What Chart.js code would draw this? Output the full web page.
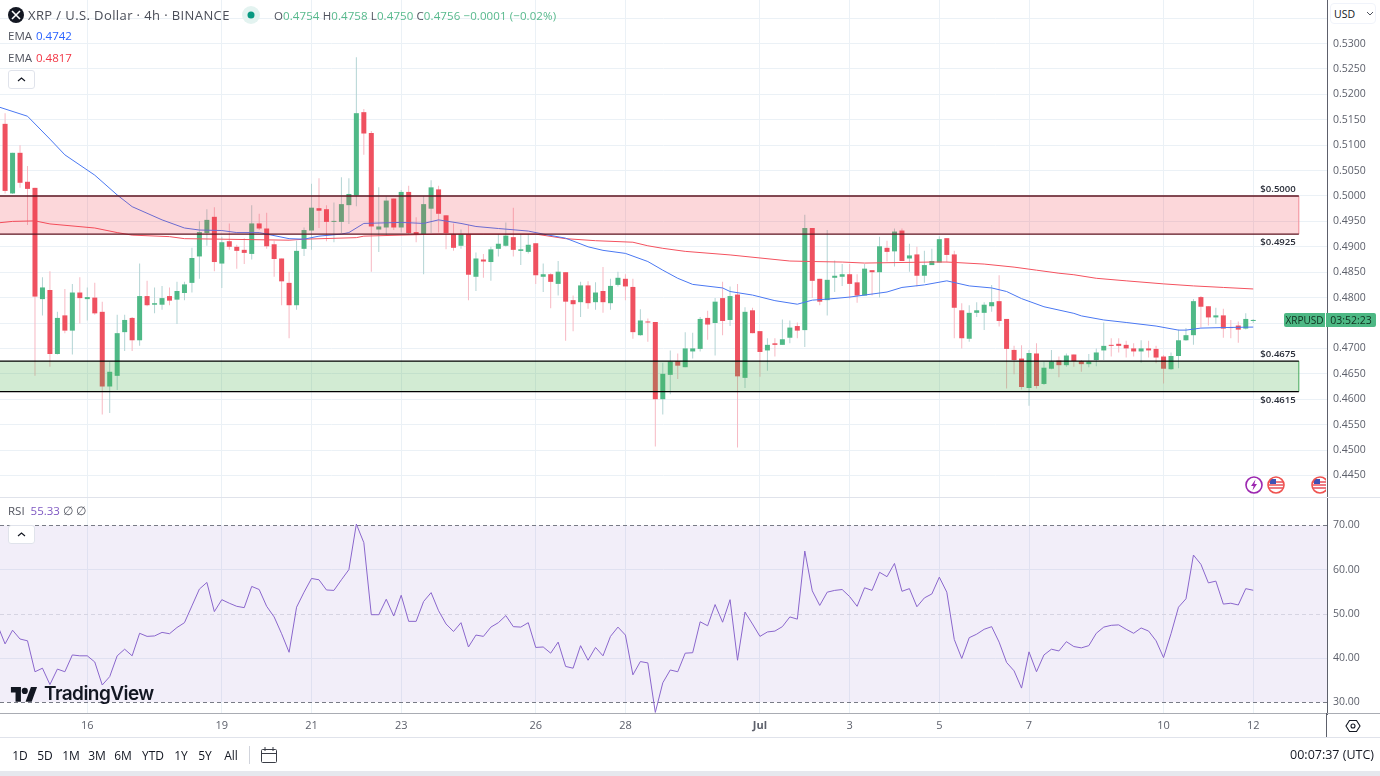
<!DOCTYPE html>
<html>
<head>
<meta charset="utf-8">
<title>XRP / U.S. Dollar</title>
<script src="https://cdn.jsdelivr.net/npm/chart.js@4"></script>
<style>
    html, body { margin: 0; padding: 0; background: #fff; }
    body { width: 1380px; height: 776px; position: relative; overflow: hidden; font-family: "Open Sans", sans-serif; color: #50535e; }
    canvas { position: absolute; left: 0; display: block; }
    #priceChart { top: 0; }
    #rsiChart { top: 497px; }
    .t { position: absolute; white-space: nowrap; line-height: 16px; }
    .line { position: absolute; }
    .tb { position: absolute; top: 747px; font-size: 12px; color: #131722; transform: translateX(-50%); font-weight: 500; }
    .collapse { position: absolute; left: 8px; width: 25px; height: 17px; border: 1px solid #e0e3eb; border-radius: 3px; background: #fff; }
    .green { color: #57b98c; }
</style>
</head>
<body>
<canvas id="priceChart" width="1380" height="497"></canvas>
<canvas id="rsiChart" width="1380" height="241"></canvas>

<!-- pane separators -->
<div class="line" style="left:0;top:497px;width:1380px;height:1px;background:#e0e3eb"></div>
<div class="line" style="left:0;top:713px;width:1380px;height:1px;background:#a9acb3"></div>
<div class="line" style="left:1326px;top:713px;width:1px;height:24px;background:#5d606b"></div>
<div class="line" style="left:0;top:737px;width:1380px;height:1px;background:#e0e3eb"></div>
<div class="line" style="left:0;top:771px;width:1380px;height:5px;background:#e6e8ee"></div>

<!-- header -->
<svg style="position:absolute;left:8px;top:7px" width="16" height="16" viewBox="0 0 16 16">
    <circle cx="8" cy="8" r="8" fill="#131722"/>
    <path d="M4 4l8 8M12 4l-8 8" stroke="#fff" stroke-width="1.6"/>
</svg>
<div class="t" style="left:28px;top:7px;font-size:13px;letter-spacing:0.4px;color:#4a4d57">XRP / U.S. Dollar · 4h · BINANCE</div>
<svg style="position:absolute;left:242px;top:6px" width="18" height="18" viewBox="0 0 18 18">
    <circle cx="9" cy="9" r="9" fill="#e3f3f0"/><circle cx="9" cy="9" r="3.5" fill="#089981"/>
</svg>
<div class="t" style="left:274px;top:8px;font-size:11.5px;letter-spacing:0.1px">O<span class="green">0.4754</span> H<span class="green">0.4758</span> L<span class="green">0.4750</span> C<span class="green">0.4756</span> <span class="green">−0.0001 (−0.02%)</span></div>
<div class="t" style="left:8px;top:28px;font-size:11.5px">EMA <span style="color:#2962ff;margin-left:1px">0.4742</span></div>
<div class="t" style="left:8px;top:50px;font-size:11.5px">EMA <span style="color:#f23645;margin-left:1px">0.4817</span></div>
<div class="collapse" style="top:70px"><svg width="25" height="17"><path d="M9 10l3.5-3 3.5 3" fill="none" stroke="#131722" stroke-width="1.2"/></svg></div>
<div class="t" style="left:8px;top:503px;font-size:11.5px">RSI <span style="color:#7e57c2;margin-left:3px">55.33</span> <span>∅</span> <span>∅</span></div>
<div class="collapse" style="top:525px"><svg width="25" height="17"><path d="M9 10l3.5-3 3.5 3" fill="none" stroke="#131722" stroke-width="1.2"/></svg></div>

<!-- event icons, the last one is cut by the axis -->
<div style="position:absolute;left:1240px;top:472px;width:86px;height:25px;overflow:hidden">
    <svg style="position:absolute;left:5px;top:4px" width="18" height="18" viewBox="0 0 18 18">
        <circle cx="9" cy="9" r="8" fill="#fff" stroke="#9c27b0" stroke-width="1.6"/>
        <path d="M10.5 3.5L6 10h2.6l-1.1 4.5L12 8H9.4z" fill="#9c27b0"/>
    </svg>
    <svg style="position:absolute;left:27px;top:4px" width="18" height="18" viewBox="0 0 18 18">
        <circle cx="9" cy="9" r="8" fill="#fff"/>
        <path d="M2 6h14M1.5 9h15M2 12h14" stroke="#e8505b" stroke-width="1.5"/>
        <rect x="3" y="3" width="6" height="5" fill="#3f51b5"/>
        <circle cx="9" cy="9" r="8" fill="none" stroke="#ef5350" stroke-width="1.6"/>
    </svg>
    <svg style="position:absolute;left:71px;top:4px" width="18" height="18" viewBox="0 0 18 18">
        <circle cx="9" cy="9" r="8" fill="#fff"/>
        <path d="M2 6h14M1.5 9h15M2 12h14" stroke="#e8505b" stroke-width="1.5"/>
        <rect x="3" y="3" width="6" height="5" fill="#3f51b5"/>
        <circle cx="9" cy="9" r="8" fill="none" stroke="#ef5350" stroke-width="1.6"/>
    </svg>
</div>

<!-- last price labels -->
<div class="t" style="left:1284px;top:313px;width:41px;height:14px;line-height:14px;background:#4db884;color:#10301f;font-size:10px;text-align:center;border-radius:2px 0 0 2px">XRPUSD</div>
<div class="t" style="left:1326px;top:313px;width:50px;height:14px;line-height:14px;background:#4db884;color:#10301f;font-size:10.5px;text-align:center;border-radius:0 2px 2px 0">03:52:23</div>

<!-- currency button -->
<div class="t" style="left:1330px;top:3px;width:46px;height:21px;line-height:21px;border:1px solid #f0f3fa;border-radius:4px;box-sizing:border-box;font-size:10.5px;color:#131722;padding-left:3px;background:#fff">USD<svg style="position:absolute;left:35px;top:7px" width="8" height="6"><path d="M1 1l3 3 3-3" fill="none" stroke="#50535e" stroke-width="1"/></svg></div>

<!-- watermark -->
<svg style="position:absolute;left:10px;top:684px" width="28" height="20" viewBox="0 0 36 26">
    <path d="M14 4H1v7h6v12h7V4zm14 19h-8l7-19h8l-7 19zm-9-10a4 4 0 1 0 0-8 4 4 0 0 0 0 8z" fill="#131722"/>
</svg>
<div class="t" style="left:44px;top:684px;line-height:20px;font-size:19px;font-family:Inter,sans-serif;font-weight:600;color:#131722;letter-spacing:-0.55px">TradingView</div>

<!-- gear -->
<svg style="position:absolute;left:1345px;top:718px" width="16" height="16" viewBox="0 0 16 16">
    <path d="M4.5 2.5h7L15 8l-3.5 5.5h-7L1 8z" fill="none" stroke="#131722" stroke-width="1.1"/>
    <circle cx="8" cy="8" r="2" fill="none" stroke="#131722" stroke-width="1.1"/>
</svg>

<!-- bottom toolbar -->
<div class="tb" style="left:20px">1D</div>
<div class="tb" style="left:45px">5D</div>
<div class="tb" style="left:71px">1M</div>
<div class="tb" style="left:97px">3M</div>
<div class="tb" style="left:123px">6M</div>
<div class="tb" style="left:153px">YTD</div>
<div class="tb" style="left:181px">1Y</div>
<div class="tb" style="left:205px">5Y</div>
<div class="tb" style="left:231px">All</div>
<div class="line" style="left:249px;top:746px;width:1px;height:18px;background:#d1d4dc"></div>
<svg style="position:absolute;left:260px;top:746px" width="18" height="18" viewBox="0 0 18 18">
    <rect x="1.5" y="3.5" width="15" height="13" rx="1" fill="none" stroke="#3a3d46"/>
    <path d="M1.5 7.5h15M5 1v4M13 1v4" stroke="#3a3d46" fill="none"/>
</svg>
<div class="t" style="right:6px;top:747px;font-size:12.5px;color:#131722">00:07:37 (UTC)</div>

<script>
// XRP/USD 4h candles, index 0 is the first candle on screen, 11 is 16 Jun 00:00
const openPrice = [
    .5142,.5005,.5085,.5028,.5016,.4797,.4815,.4689,.4765,.4735,
    .4810,.4797,.4800,.4772,.4625,.4646,.4732,.4760,.4716,.4803,
    .4786,.4786,.4803,.4796,.4809,.4829,.4881,.4927,.4959,.4867,
    .4911,.4900,.4894,.4886,.4946,.4936,.4905,.4877,.4829,.4785,
    .4896,.4932,.4976,.4974,.4949,.4949,.4982,.5001,.5165,.5124,
    .4934,.4938,.4995,.4938,.5008,.4929,.4925,.4975,.5013,.4962,
    .4925,.4902,.4925,.4841,.4875,.4870,.4896,.4902,.4919,.4892,
    .4890,.4907,.4841,.4846,.4827,.4850,.4795,.4791,.4824,.4791,
    .4813,.4789,.4825,.4837,.4821,.4726,.4753,.4752,.4600,.4648,
    .4675,.4663,.4694,.4699,.4760,.4750,.4799,.4756,.4806,.4642,
    .4775,.4734,.4696,.4710,.4707,.4721,.4744,.4736,.4937,.4837,
    .4795,.4839,.4841,.4846,.4830,.4804,.4854,.4850,.4898,.4891,
    .4932,.4877,.4885,.4843,.4864,.4869,.4917,.4885,.4775,.4719,
    .4770,.4770,.4783,.4793,.4758,.4697,.4680,.4622,.4690,.4630,
    .4660,.4676,.4667,.4688,.4675,.4669,.4677,.4696,.4707,.4709,
    .4707,.4700,.4694,.4700,.4699,.4684,.4659,.4685,.4716,.4726,
    .4801,.4783,.4761,.4765,.4742,.4745,.4739,.4754
];
const highPrice = [
    .5163,.5085,.5100,.5059,.5016,.4840,.4852,.4772,.4817,.4827,
    .4840,.4820,.4829,.4792,.4674,.4766,.4766,.4762,.4867,.4833,
    .4820,.4823,.4820,.4831,.4831,.4898,.4951,.4974,.4978,.4920,
    .4946,.4904,.4917,.4982,.4965,.4967,.4912,.4877,.4851,.4912,
    .4938,.5024,.5035,.4982,.4987,.5037,.5035,.5273,.5171,.5128,
    .5017,.4999,.4995,.5012,.5020,.4958,.5000,.5031,.5020,.4962,
    .4946,.4934,.4943,.4889,.4886,.4900,.4925,.4948,.4977,.4925,
    .4925,.4907,.4867,.4848,.4872,.4850,.4804,.4831,.4832,.4830,
    .4860,.4837,.4851,.4846,.4837,.4777,.4759,.4752,.4672,.4696,
    .4690,.4732,.4731,.4762,.4774,.4799,.4831,.4822,.4827,.4781,
    .4780,.4734,.4720,.4720,.4757,.4755,.4751,.4963,.4937,.4837,
    .4933,.4873,.4866,.4866,.4846,.4866,.4854,.4920,.4912,.4936,
    .4936,.4906,.4900,.4892,.4896,.4921,.4917,.4892,.4789,.4785,
    .4791,.4791,.4825,.4844,.4758,.4705,.4706,.4697,.4710,.4674,
    .4697,.4684,.4690,.4688,.4677,.4689,.4700,.4751,.4720,.4720,
    .4715,.4710,.4716,.4715,.4705,.4687,.4692,.4737,.4740,.4797,
    .4803,.4783,.4780,.4778,.4756,.4753,.4769,.4758
];
const lowPrice = [
    .5005,.5004,.5016,.4943,.4646,.4765,.4664,.4688,.4730,.4688,
    .4749,.4755,.4766,.4570,.4573,.4618,.4695,.4695,.4705,.4783,
    .4769,.4776,.4785,.4748,.4795,.4810,.4837,.4902,.4852,.4819,
    .4894,.4857,.4866,.4875,.4933,.4896,.4841,.4785,.4720,.4776,
    .4882,.4894,.4937,.4911,.4909,.4927,.4945,.4980,.5081,.4851,
    .4890,.4923,.4933,.4928,.4925,.4909,.4846,.4927,.4928,.4895,
    .4892,.4896,.4795,.4813,.4839,.4833,.4881,.4900,.4881,.4864,
    .4887,.4827,.4811,.4779,.4804,.4715,.4734,.4762,.4778,.4776,
    .4770,.4776,.4822,.4795,.4719,.4725,.4713,.4507,.4570,.4610,
    .4640,.4663,.4680,.4694,.4717,.4686,.4726,.4744,.4505,.4622,
    .4730,.4644,.4656,.4684,.4707,.4710,.4720,.4703,.4799,.4785,
    .4765,.4811,.4823,.4798,.4790,.4804,.4804,.4800,.4871,.4861,
    .4872,.4851,.4822,.4829,.4864,.4869,.4869,.4720,.4700,.4713,
    .4762,.4736,.4772,.4743,.4621,.4649,.4619,.4587,.4621,.4628,
    .4659,.4643,.4664,.4664,.4654,.4663,.4665,.4677,.4684,.4692,
    .4682,.4684,.4672,.4682,.4671,.4631,.4658,.4661,.4715,.4707,
    .4741,.4745,.4748,.4721,.4720,.4711,.4737,.4750
];
const closePrice = [
    .5010,.5085,.5026,.5014,.4802,.4820,.4689,.4760,.4735,.4810,
    .4799,.4801,.4769,.4625,.4654,.4730,.4756,.4716,.4803,.4785,
    .4789,.4799,.4794,.4813,.4826,.4878,.4929,.4953,.4870,.4909,
    .4900,.4892,.4888,.4946,.4936,.4901,.4876,.4832,.4785,.4892,
    .4933,.4977,.4971,.4949,.4951,.4984,.5004,.5163,.5123,.4940,
    .4940,.4991,.4938,.5008,.4927,.4925,.4984,.5017,.4965,.4927,
    .4898,.4925,.4845,.4877,.4871,.4895,.4906,.4922,.4894,.4895,
    .4904,.4844,.4846,.4831,.4851,.4792,.4787,.4824,.4789,.4810,
    .4791,.4823,.4839,.4822,.4732,.4755,.4751,.4600,.4650,.4674,
    .4666,.4700,.4700,.4758,.4747,.4792,.4754,.4803,.4645,.4772,
    .4730,.4693,.4707,.4707,.4718,.4741,.4735,.4937,.4833,.4792,
    .4835,.4843,.4846,.4827,.4804,.4857,.4850,.4901,.4890,.4930,
    .4872,.4883,.4843,.4864,.4872,.4915,.4884,.4780,.4720,.4770,
    .4775,.4786,.4791,.4754,.4699,.4677,.4624,.4691,.4626,.4662,
    .4674,.4667,.4686,.4675,.4669,.4674,.4692,.4705,.4705,.4705,
    .4700,.4694,.4700,.4696,.4682,.4660,.4685,.4716,.4726,.4793,
    .4782,.4761,.4765,.4739,.4740,.4737,.4758,.4756
];

// EMAs, read at the candles where the line bends
const emaFastIndex = [-1,3,6,8,12,15,17,21,24,26,29,31,34,38,40,42,45,46,48,53,56,58,61,63,66,70,72,75,78,80,83,86,88,90,92,96,97,100,103,106,108,110,113,115,118,120,123,126,129,132,134,136,139,143,144,147,150,154,157,158,160,163,167];
const emaFast = [.5176,.5157,.5112,.5081,.5041,.5002,.4979,.4953,.4937,.4933,.4932,.4928,.4928,.4916,.4915,.4921,.4925,.4928,.4946,.4948,.4946,.4953,.4946,.4940,.4936,.4931,.4925,.4917,.4900,.4893,.4887,.4871,.4854,.4838,.4826,.4819,.4812,.4805,.4794,.4787,.4795,.4797,.4801,.4805,.4811,.4820,.4825,.4833,.4823,.4819,.4812,.4798,.4782,.4769,.4764,.4756,.4751,.4744,.4736,.4736,.4740,.4741,.4742];
const emaSlowIndex = [-1,1,4,6,12,15,17,22,24,29,38,40,47,48,58,64,71,75,79,84,86,88,91,97,101,105,108,112,115,124,126,131,135,138,141,143,146,150,155,159,163,167];
const emaSlow = [.4947,.4950,.4951,.4945,.4937,.4928,.4923,.4920,.4916,.4915,.4913,.4915,.4918,.4921,.4925,.4925,.4925,.4916,.4912,.4909,.4902,.4897,.4891,.4884,.4878,.4872,.4871,.4870,.4868,.4870,.4870,.4866,.4860,.4854,.4848,.4845,.4838,.4833,.4827,.4823,.4820,.4817];

// RSI, first value belongs to the candle just off screen (index -1)
const rsiValues = [
    47.4,43.2,46.3,44.3,43.9,36.9,37.7,34.0,37.5,36.9,
    40.7,40.5,40.5,39.1,33.9,35.8,40.5,42.0,40.5,45.6,
    44.9,45.0,45.8,45.5,46.9,48.0,51.8,55.6,57.1,50.5,
    53.2,52.4,51.7,51.4,56.2,55.5,51.7,49.3,45.5,41.3,
    51.5,54.9,58.0,57.7,55.4,55.3,57.7,60.0,70.3,66.1,
    49.8,49.8,53.3,49.5,54.2,48.3,48.3,52.8,54.8,50.7,
    47.7,46.0,48.0,42.5,45.2,44.9,47.0,48.0,49.6,47.1,
    47.0,48.0,42.4,42.5,41.1,43.6,38.1,37.7,42.8,39.5,
    42.4,40.5,44.9,47.0,45.2,36.2,39.2,38.9,27.7,34.4,
    37.3,36.9,41.1,41.2,48.2,47.3,52.1,48.1,53.2,39.5,
    50.4,47.7,44.9,45.9,46.1,47.1,49.3,48.8,64.2,55.2,
    51.9,54.9,55.3,55.5,53.9,51.7,55.9,55.3,59.4,58.4,
    61.4,55.1,55.7,51.6,53.6,54.5,58.3,54.9,44.2,39.9,
    44.6,45.4,46.5,47.1,43.6,39.0,37.1,33.2,41.4,36.9,
    40.7,42.0,41.6,43.7,42.6,42.3,42.8,45.6,47.0,47.4,
    47.5,46.5,45.6,46.8,46.1,43.9,40.1,45.5,51.5,53.4,
    63.3,61.2,57.0,57.4,52.2,52.4,52.0,55.7,55.33
];

// Support and resistance zones
const zoneHigh = [0.5000, 0.4675];
const zoneLow = [0.4925, 0.4615];
const zoneHighLabel = ["$0.5000", "$0.4675"];
const zoneLowLabel = ["$0.4925", "$0.4615"];

// Axis ticks
const dayTickIndex = [11, 29, 41, 53, 71, 83, 101, 113, 125, 137, 155, 167];
const dayTickLabels = ["16", "19", "21", "23", "26", "28", "Jul", "3", "5", "7", "10", "12"];
const priceTicks = [0.445,0.45,0.455,0.46,0.465,0.47,0.475,0.48,0.485,0.49,0.495,0.5,0.505,0.51,0.515,0.52,0.525,0.53,0.535];
const rsiTicks = [30, 40, 50, 60, 70];
const rsiBand = [30, 70];
const rsiMiddle = [50];

const gridColor = "#ebf1f6";
const axisColor = "#5d606b";
const labelColor = "#5d606b";
const upColor = "#4fb987", downColor = "#ef5160";
const upWick = "#b3d4d4", downWick = "#f7b9c3";
const axisFont = { family: "'Open Sans', sans-serif", size: 10.5 };

// x range that puts candle 0 at the left edge of the pane
const xMin = -0.68, xMax = 176.87;
const zoneEnd = 173.1;

function isUp(i) {
    return closePrice[i] >= openPrice[i];
}

// x axis shared by both panes, only the day ticks
function dayAxis(showLabels) {
    return {
        type: "linear",
        min: xMin,
        max: xMax,
        offset: false,
        afterBuildTicks: scale => { scale.ticks = dayTickIndex.map(v => ({ value: v })); },
        afterFit: scale => {
            scale.height = showLabels ? 24 : 0;
            scale.paddingLeft = 0;
            scale.paddingRight = 0;
        },
        border: { display: false },
        grid: { color: gridColor, drawTicks: false, offset: false },
        ticks: {
            display: showLabels,
            autoSkip: false,
            maxRotation: 0,
            padding: 5,
            color: labelColor,
            font: ctx => ({ ...axisFont, size: 11, weight: ctx.tick && ctx.tick.value === 101 ? "bold" : "normal" }),
            callback: value => dayTickLabels[dayTickIndex.indexOf(value)]
        }
    };
}

function priceAxis(min, max, tickList, decimals, hideValue) {
    return {
        position: "right",
        min: min,
        max: max,
        beginAtZero: false,
        afterBuildTicks: scale => { scale.ticks = tickList.map(v => ({ value: v })); },
        afterFit: scale => {
            // no room for half a label above and below, the pane fills its canvas
            scale.width = 53;
            scale.paddingTop = 0;
            scale.paddingBottom = 0;
        },
        border: { color: axisColor },
        grid: {
            drawTicks: false,
            // the RSI guide levels are drawn by the plugin below
            color: ctx => (hideValue.includes(ctx.tick && ctx.tick.value) ? "transparent" : gridColor)
        },
        ticks: {
            autoSkip: false,
            crossAlign: "near",
            padding: 6,
            color: labelColor,
            font: axisFont,
            callback: value => (value === 0.535 ? "" : value.toFixed(decimals))
        }
    };
}

// Draws the two shaded zones over the candles, with their price labels
const zonePlugin = {
    id: "zones",
    afterDatasetsDraw(chart) {
        const { ctx, scales: { x, y } } = chart;
        const left = x.getPixelForValue(xMin);
        const right = x.getPixelForValue(zoneEnd);
        const fills = ["rgba(242,54,69,0.2)", "rgba(76,175,80,0.25)"];
        const lines = ["#5e1420", "#000000"];
        const sides = ["#f28b96", "#43a85a"];
        ctx.save();
        zoneHigh.forEach((high, i) => {
            const top = y.getPixelForValue(high);
            const bottom = y.getPixelForValue(zoneLow[i]);
            ctx.fillStyle = fills[i];
            ctx.fillRect(left, top, right - left, bottom - top);
            ctx.strokeStyle = sides[i];
            ctx.lineWidth = 1;
            ctx.beginPath();
            ctx.moveTo(right, top);
            ctx.lineTo(right, bottom);
            ctx.stroke();
            ctx.strokeStyle = lines[i];
            ctx.lineWidth = 1.4;
            ctx.beginPath();
            ctx.moveTo(left, top);
            ctx.lineTo(right, top);
            ctx.moveTo(left, bottom);
            ctx.lineTo(right, bottom);
            ctx.stroke();
            ctx.fillStyle = "#2a2e39";
            ctx.font = "600 9.6px 'Open Sans', sans-serif";
            ctx.textAlign = "right";
            ctx.textBaseline = "middle";
            ctx.fillText(zoneHighLabel[i], right - 3, top - 7);
            ctx.fillText(zoneLowLabel[i], right - 3, bottom + 8.5);
        });
        ctx.restore();
    }
};

// Purple band and dashed levels of the RSI pane
const rsiBandPlugin = {
    id: "rsiBand",
    beforeDatasetsDraw(chart) {
        const { ctx, chartArea, scales: { y } } = chart;
        const top = y.getPixelForValue(rsiBand[1]);
        const bottom = y.getPixelForValue(rsiBand[0]);
        ctx.save();
        ctx.fillStyle = "rgba(126,87,194,0.1)";
        ctx.fillRect(chartArea.left, top, chartArea.right - chartArea.left, bottom - top);
        ctx.lineWidth = 1;
        ctx.setLineDash([4, 3]);
        ctx.strokeStyle = "#787b86";
        rsiBand.forEach(level => {
            const py = Math.round(y.getPixelForValue(level)) + 0.5;
            ctx.beginPath();
            ctx.moveTo(chartArea.left, py);
            ctx.lineTo(chartArea.right, py);
            ctx.stroke();
        });
        ctx.strokeStyle = "#d6d4e2";
        rsiMiddle.forEach(level => {
            const py = Math.round(y.getPixelForValue(level)) + 0.5;
            ctx.beginPath();
            ctx.moveTo(chartArea.left, py);
            ctx.lineTo(chartArea.right, py);
            ctx.stroke();
        });
        ctx.restore();
    }
};

// Candles are two floating bars each: a thin wick and a wider body
const wickData = highPrice.map((high, i) => ({ x: i, y: [lowPrice[i], high] }));
const bodyData = openPrice.map((open, i) => ({ x: i, y: [open, closePrice[i]] }));

new Chart(document.getElementById("priceChart"), {
    type: "bar",
    data: {
        datasets: [
            {
                type: "line",
                label: "EMA fast",
                data: emaFast.map((v, k) => ({ x: emaFastIndex[k], y: v })),
                borderColor: "#4a78f2",
                borderWidth: 1,
                pointRadius: 0,
                order: 0
            },
            {
                type: "line",
                label: "EMA slow",
                data: emaSlow.map((v, k) => ({ x: emaSlowIndex[k], y: v })),
                borderColor: "#f4525f",
                borderWidth: 1,
                pointRadius: 0,
                order: 0
            },
            {
                label: "Body",
                data: bodyData,
                backgroundColor: bodyData.map((d, i) => (isUp(i) ? upColor : downColor)),
                barThickness: 5,
                minBarLength: 1,
                inflateAmount: 0,
                grouped: false,
                order: 1
            },
            {
                label: "Wick",
                data: wickData,
                backgroundColor: wickData.map((d, i) => (isUp(i) ? upWick : downWick)),
                barThickness: 1,
                inflateAmount: 0,
                grouped: false,
                order: 2
            }
        ]
    },
    options: {
        responsive: false,
        maintainAspectRatio: false,
        animation: false,
        layout: { padding: 0 },
        plugins: { legend: { display: false }, tooltip: { enabled: false } },
        scales: {
            x: dayAxis(false),
            y: priceAxis(0.44075, 0.53858, priceTicks, 4, [])
        }
    },
    plugins: [zonePlugin]
});

new Chart(document.getElementById("rsiChart"), {
    type: "line",
    data: {
        datasets: [{
            label: "RSI",
            data: rsiValues.map((v, k) => ({ x: k - 1, y: v })),
            borderColor: "#8a66cc",
            borderWidth: 1,
            pointRadius: 0
        }]
    },
    options: {
        responsive: false,
        maintainAspectRatio: false,
        animation: false,
        layout: { padding: 0 },
        plugins: { legend: { display: false }, tooltip: { enabled: false } },
        scales: {
            x: dayAxis(true),
            y: priceAxis(27.34, 76.43, rsiTicks, 2, [30, 50, 70])
        }
    },
    plugins: [rsiBandPlugin]
});
</script>
</body>
</html>
